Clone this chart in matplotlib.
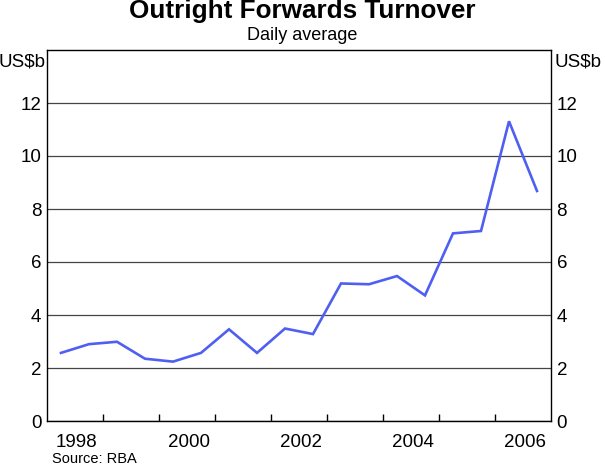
import matplotlib
matplotlib.use("Agg")
import matplotlib.pyplot as plt
import numpy as np

plt.rcParams['font.family'] = ['Liberation Sans', 'DejaVu Sans']

# Semi-annual observations (April / October), 1998 to 2006
dates = [1998.25, 1998.75, 1999.25, 1999.75, 2000.25, 2000.75, 2001.25, 2001.75,
         2002.25, 2002.75, 2003.25, 2003.75, 2004.25, 2004.75, 2005.25, 2005.75,
         2006.25, 2006.75]
turnover = [2.57, 2.90, 2.99, 2.35, 2.24, 2.57, 3.46, 2.57,
            3.49, 3.28, 5.19, 5.16, 5.47, 4.74, 7.08, 7.17,
            11.31, 8.68]
year_labels = ['1998', '2000', '2002', '2004', '2006']
y_ticks = [0, 2, 4, 6, 8, 10, 12]

fig = plt.figure(figsize=(6.05, 4.65), dpi=100)
ax = fig.add_axes([47/605, 1-421/465, (551-47)/605, (421-50)/465])

ax.plot(dates, turnover, color='#4f5ff2', lw=1.9, solid_joinstyle='miter', zorder=3)

ax.set_xlim(1998, 2007)
ax.set_ylim(0, 14)

ax.set_yticks(y_ticks)
ax.yaxis.grid(True, color='#444444', lw=0.9)
ax.set_axisbelow(True)
ax.tick_params(axis='y', length=0, labelsize=13.5, pad=4, labelright=True, right=False)
ax.set_yticklabels([str(v) for v in y_ticks])

ax.set_xticks(np.arange(1999, 2007))
ax.set_xticklabels([])
ax.tick_params(axis='x', which='major', direction='in', length=5, width=1, color='black')
ax.set_xticks([int(y) + 0.53 for y in year_labels], minor=True)
ax.set_xticklabels(year_labels, minor=True)
ax.tick_params(axis='x', which='minor', length=0, labelsize=13.5, pad=9)

for s in ax.spines.values():
    s.set_color('black')
    s.set_linewidth(1)

ax.text(-1.5/504, 13.55, 'US$b', transform=ax.get_yaxis_transform(), ha='right', va='center', fontsize=13.5)
ax.text(1 + 4/504, 13.55, 'US$b', transform=ax.get_yaxis_transform(), ha='left', va='center', fontsize=13.5)

fig.text(0.5, 1-11/465, 'Outright Forwards Turnover', ha='center', va='center', fontsize=18.8, fontweight='bold')
fig.text(0.5, 1-35/465, 'Daily average', ha='center', va='center', fontsize=13)
fig.text(52/605, 1-459/465, 'Source: RBA', ha='left', va='center', fontsize=10.5)

fig.savefig('out.png', dpi=100)
